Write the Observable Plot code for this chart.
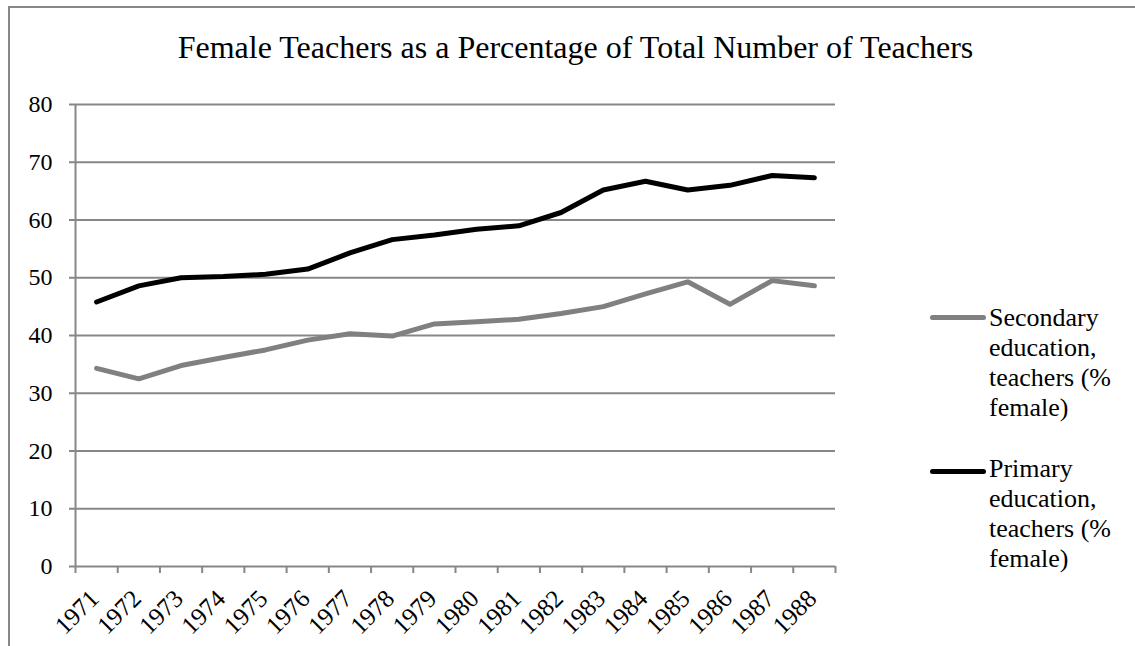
<!DOCTYPE html>
<html><head><meta charset="utf-8">
<script src="https://cdn.jsdelivr.net/npm/d3@7"></script>
<script src="https://cdn.jsdelivr.net/npm/@observablehq/plot@0.6"></script>
<style>
body{margin:0;background:#fff;}
#wrap{position:relative;width:1135px;height:646px;overflow:hidden;font-family:"Liberation Serif","Times New Roman",serif;color:#000;}
#border{position:absolute;left:8px;top:6px;width:1300px;height:1000px;border:2px solid #878787;box-sizing:border-box;}
#title{position:absolute;left:8px;width:1135px;top:31px;text-align:center;font-size:32px;line-height:1;white-space:nowrap;}
#chart{position:absolute;left:0;top:0;}
.leg{position:absolute;left:989px;font-size:26px;line-height:30px;width:150px;white-space:nowrap;}
.sw{position:absolute;left:930px;width:56px;height:5px;border-radius:3px;}
</style></head>
<body>
<div id="wrap">
  <div id="border"></div>
  <div id="chart"></div>
  <div id="title"></div>
  <div id="legend"></div>
</div>
<script>
const title = "Female Teachers as a Percentage of Total Number of Teachers";
const years = [1971,1972,1973,1974,1975,1976,1977,1978,1979,1980,1981,1982,1983,1984,1985,1986,1987,1988];
const secondary = [34.3,32.5,34.8,36.2,37.5,39.2,40.3,39.9,42.0,42.4,42.8,43.8,45.0,47.2,49.3,45.4,49.5,48.6];
const primary = [45.8,48.6,50.0,50.2,50.6,51.5,54.3,56.6,57.4,58.4,59.0,61.3,65.2,66.7,65.2,66.0,67.7,67.3];
const seriesNames = ["Secondary education, teachers (% female)", "Primary education, teachers (% female)"];
const seriesColors = ["#808080", "#000000"];
const yTicks = [0,10,20,30,40,50,60,70,80];

const rows = [];
years.forEach((yr, i) => {
  rows.push({year: yr, value: secondary[i], series: seriesNames[0]});
  rows.push({year: yr, value: primary[i], series: seriesNames[1]});
});
const edges = [years[0] - 0.5, ...years.map(y => y + 0.5)];
const grid = "#878787";

const chart = Plot.plot({
  width: 1135, height: 646,
  marginLeft: 75, marginRight: 300, marginTop: 104, marginBottom: 80,
  style: {fontFamily: '"Liberation Serif","Times New Roman",serif', background: "transparent", overflow: "visible"},
  x: {domain: [edges[0], edges[edges.length - 1]], axis: null},
  y: {domain: [0, 80], axis: null},
  color: {domain: seriesNames, range: seriesColors},
  marks: [
    Plot.ruleY(yTicks, {x1: edges[0], x2: edges[edges.length - 1], stroke: grid, strokeWidth: 2}),
    Plot.axisY(yTicks, {tickSize: 6, tickPadding: 17, fontSize: 24, stroke: grid, strokeWidth: 2, color: "#000", label: null, tickFormat: d => String(d)}),
    Plot.axisX(edges, {tickSize: 7, tickFormat: () => "", stroke: grid, strokeWidth: 2, label: null}),
    Plot.ruleX([edges[0]], {y1: 0, y2: 80, stroke: grid, strokeWidth: 2}),
    Plot.text(years, {x: d => d, y: 0, text: d => String(d), rotate: -45, textAnchor: "end", dx: -2, dy: 28, fontSize: 25, fill: "#000"}),
    Plot.line(rows, {x: "year", y: "value", z: "series", stroke: "series", strokeWidth: 5, strokeLinejoin: "round", strokeLinecap: "round"})
  ]
});
document.getElementById("chart").appendChild(chart);
document.getElementById("title").textContent = title;

const legend = document.getElementById("legend");
const legendTops = [303, 454];
const swatchY = [317, 471];
const legendLines = [["Secondary", "education,", "teachers (%", "female)"], ["Primary", "education,", "teachers (%", "female)"]];
seriesNames.forEach((name, i) => {
  const sw = document.createElement("div");
  sw.className = "sw";
  sw.style.background = seriesColors[i];
  sw.style.top = (swatchY[i] - 2.5) + "px";
  legend.appendChild(sw);
  const t = document.createElement("div");
  t.className = "leg";
  t.style.top = legendTops[i] + "px";
  t.innerHTML = legendLines[i].join("<br>");
  legend.appendChild(t);
});
</script>
</body></html>
